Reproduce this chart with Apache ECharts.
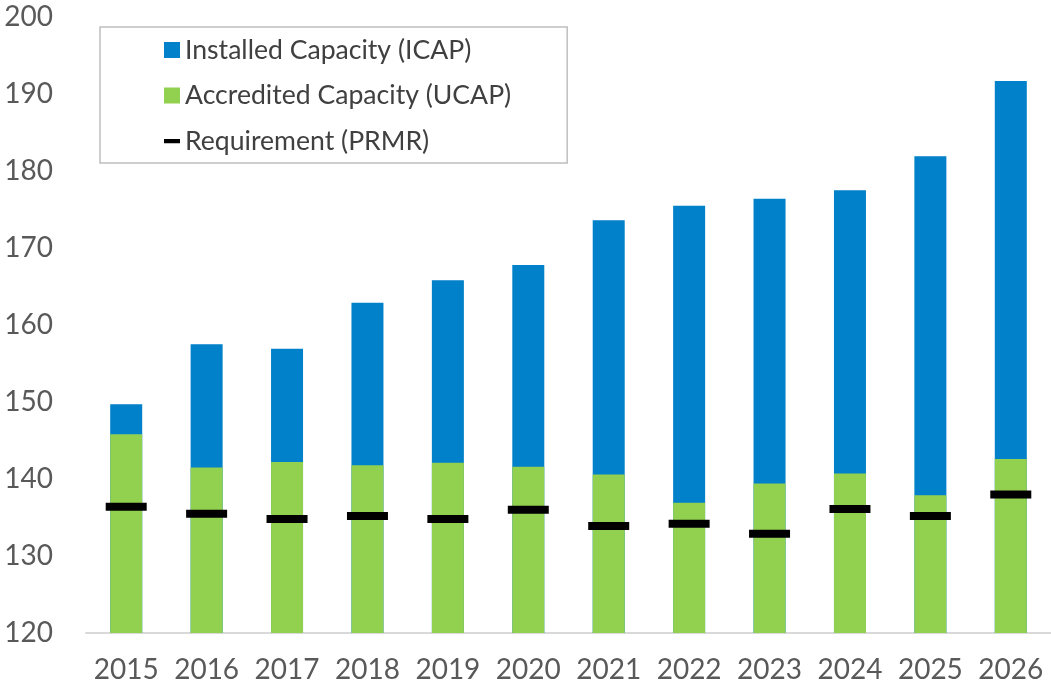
<!DOCTYPE html>
<html>
<head>
<meta charset="utf-8">
<script src="https://cdn.jsdelivr.net/npm/echarts@6/dist/echarts.min.js"></script>
<style>
  html, body { margin: 0; padding: 0; background: #ffffff; }
  #chart { width: 1051px; height: 684px; }
</style>
</head>
<body>
<div id="chart"></div>
<script>
// data
var years = ['2015', '2016', '2017', '2018', '2019', '2020', '2021', '2022', '2023', '2024', '2025', '2026']
var icap = [149.7, 157.5, 156.9, 162.9, 165.8, 167.8, 173.6, 175.5, 176.4, 177.5, 181.9, 191.7]
var ucap = [145.8, 141.5, 142.2, 141.8, 142.1, 141.6, 140.6, 136.9, 139.4, 140.7, 137.9, 142.6]
var prmr = [136.4, 135.5, 134.8, 135.2, 134.8, 136.0, 133.9, 134.2, 132.9, 136.1, 135.2, 138.0]
var names = ['Installed Capacity (ICAP)', 'Accredited Capacity (UCAP)', 'Requirement (PRMR)']

var textColor = '#595959'
var font = 'Lato'

var myChart = echarts.init(document.getElementById('chart'))
var option = {
  backgroundColor: '#ffffff',
  animation: false,
  textStyle: { fontFamily: font },
  grid: { left: 86, right: 0, top: 17, bottom: 51 },
  legend: {
    orient: 'vertical',
    left: 100,
    top: 27,
    padding: [8, 56, 7, 64],
    itemGap: 15.5,
    itemWidth: 16,
    itemHeight: 16,
    borderColor: '#bfbfbf',
    borderWidth: 1.5,
    textStyle: { fontSize: 26.6, color: '#404040', fontFamily: font, lineHeight: 30 },
    data: [
      { name: names[0], icon: 'rect' },
      { name: names[1], icon: 'rect' },
      // dash icon, kept in a square box so it lines up with the others
      { name: names[2], icon: 'path://M0,6.5h17v4.5h-17z M0,0l0.01,0l0,0.01z M17,17l-0.01,0l0,-0.01z' }
    ]
  },
  xAxis: {
    type: 'category',
    data: years,
    axisLine: { lineStyle: { color: '#d9d9d9', width: 2 } },
    axisTick: { show: false },
    axisLabel: { interval: 0, hideOverlap: false, fontSize: 28, color: textColor, margin: 23, fontFamily: font }
  },
  yAxis: {
    type: 'value',
    min: 120,
    max: 200,
    interval: 10,
    axisLine: { show: false },
    axisTick: { show: false },
    splitLine: { show: false },
    axisLabel: { fontSize: 28, color: textColor, margin: 33, fontFamily: font }
  },
  series: [
    {
      name: names[0],
      type: 'bar',
      barWidth: 32,
      barGap: '-100%',
      itemStyle: { color: '#0081C9' },
      data: icap
    },
    {
      name: names[1],
      type: 'bar',
      barWidth: 32,
      barGap: '-100%',
      itemStyle: { color: '#92D050' },
      data: ucap
    },
    {
      name: names[2],
      type: 'scatter',
      symbol: 'rect',
      symbolSize: [41, 8],
      z: 5,
      itemStyle: { color: '#000000', opacity: 1 },
      data: prmr
    }
  ]
}
myChart.setOption(option, true)
</script>
</body>
</html>
